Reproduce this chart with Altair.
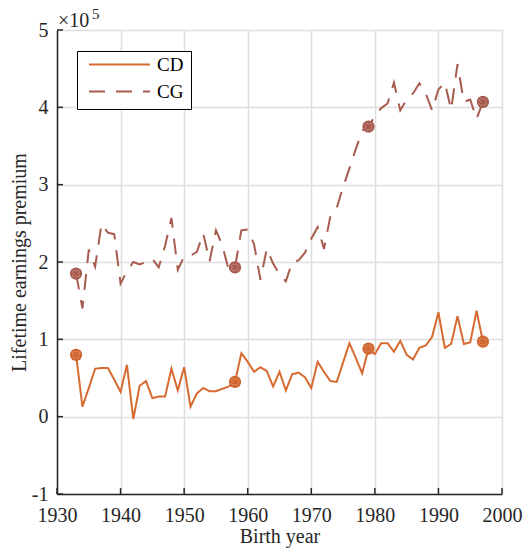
import altair as alt
import pandas as pd

# Birth cohorts and lifetime earnings premium (in units of 1e5)
years = list(range(1933, 1998))
cd = [0.80, 0.13, 0.37, 0.62, 0.63, 0.63, 0.48, 0.32, 0.67, -0.03,
      0.40, 0.46, 0.24, 0.26, 0.26, 0.62, 0.34, 0.64, 0.13, 0.30,
      0.37, 0.33, 0.33, 0.36, 0.39, 0.45, 0.82, 0.71, 0.58, 0.64,
      0.59, 0.39, 0.58, 0.34, 0.55, 0.57, 0.51, 0.37, 0.71, 0.58,
      0.46, 0.45, 0.70, 0.95, 0.76, 0.56, 0.88, 0.81, 0.95, 0.95,
      0.84, 0.98, 0.80, 0.74, 0.89, 0.92, 1.03, 1.35, 0.89, 0.94,
      1.30, 0.94, 0.96, 1.37, 0.97]
cg = [1.85, 1.40, 2.16, 1.94, 2.49, 2.38, 2.36, 1.72, 1.88, 2.00,
      1.97, 2.00, 2.04, 1.93, 2.21, 2.57, 1.90, 2.07, 2.08, 2.13,
      2.37, 2.01, 2.41, 2.22, 1.90, 1.93, 2.41, 2.42, 2.23, 1.77,
      2.17, 1.98, 1.84, 1.75, 2.00, 2.02, 2.12, 2.30, 2.45, 2.17,
      2.59, 2.70, 2.97, 3.21, 3.46, 3.70, 3.75, 3.89, 3.99, 4.05,
      4.32, 3.96, 4.10, 4.18, 4.31, 4.18, 3.96, 4.23, 4.32, 3.97,
      4.56, 4.07, 4.10, 3.85, 4.07]
marker_years = [1933, 1958, 1979, 1997]
series = ["CD", "CG"]
line_colors = ["#D66A30", "#A85C4F"]
marker_colors = ["#D0642C", "#A65A50"]
x_ticks = [1930, 1940, 1950, 1960, 1970, 1980, 1990, 2000]
y_ticks = [-1, 0, 1, 2, 3, 4, 5]

FONT = "Liberation Serif"
INK = "#262626"
W, H = 445, 464

rows = []
for yr, a, b in zip(years, cd, cg):
    rows.append({"year": yr, "series": "CD", "value": a})
    rows.append({"year": yr, "series": "CG", "value": b})
df = pd.DataFrame(rows)
marks_df = df[df["year"].isin(marker_years)]

x_scale = alt.Scale(domain=[1930, 2000], nice=False, zero=False)
y_scale = alt.Scale(domain=[-1, 5], nice=False, zero=False)

x_axis = alt.Axis(
    values=x_ticks, format="d", title="Birth year",
    labelPadding=11, labelFlush=False, titleY=48,
)
y_axis = alt.Axis(
    values=y_ticks, labelExpr="'' + datum.value", title="Lifetime earnings premium",
    labelPadding=9, labelFlush=False, titleX=-32,
)

X = alt.X("year:Q", scale=x_scale, axis=x_axis)
Y = alt.Y("value:Q", scale=y_scale, axis=y_axis)

legend = alt.Legend(
    title=None, orient="none", legendX=20, legendY=21,
    symbolType="stroke", symbolSize=3721, symbolStrokeWidth=2,
    clipHeight=13, rowPadding=7, padding=7, symbolOffset=4, labelOffset=6,
    strokeColor="black", fillColor="white",
    labelFont=FONT, labelFontSize=19, labelColor="black",
)

lines = alt.Chart(df).mark_line(strokeWidth=2).encode(
    x=X, y=Y,
    color=alt.Color("series:N", scale=alt.Scale(domain=series, range=line_colors), legend=legend),
    strokeDash=alt.StrokeDash("series:N", scale=alt.Scale(domain=series, range=[[1, 0], [16, 11]]), legend=legend),
)

dots = alt.Chart(marks_df).mark_point(filled=True, size=150, opacity=1).encode(
    x=X, y=Y,
    fill=alt.Fill("series:N", scale=alt.Scale(domain=series, range=marker_colors), legend=None),
)
crosses = alt.Chart(marks_df).mark_point(
    shape="cross", angle=45, filled=False, size=60, strokeWidth=0.7,
    color="#f0c8b4", opacity=0.55,
).encode(x=X, y=Y)

# inward-pointing axis ticks
xt = alt.Chart(pd.DataFrame({"year": x_ticks})).mark_rule(color=INK, strokeWidth=1.5).encode(
    x=X, y=alt.value(H), y2=alt.value(H - 6)
)
yt = alt.Chart(pd.DataFrame({"value": y_ticks})).mark_rule(color=INK, strokeWidth=1.5).encode(
    y=Y, x=alt.value(0), x2=alt.value(6)
)

one = pd.DataFrame({"k": [0]})
exp_base = alt.Chart(one).mark_text(
    text="\u00d710", font=FONT, fontSize=20, color=INK, align="left", baseline="alphabetic"
).encode(x=alt.value(1), y=alt.value(-3))
exp_sup = alt.Chart(one).mark_text(
    text="5", font=FONT, fontSize=15, color=INK, align="left", baseline="alphabetic"
).encode(x=alt.value(35), y=alt.value(-11))

chart = alt.layer(lines, dots, crosses, xt, yt, exp_base, exp_sup).properties(
    width=W, height=H,
    padding={"left": 57, "top": 30, "right": 24, "bottom": 55},
    autosize=alt.AutoSizeParams(type="none"),
    background="white",
).configure_view(strokeWidth=0).configure_axis(
    grid=True, gridColor="#dedede", gridWidth=1.5,
    domainColor=INK, domainWidth=1.5, ticks=False,
    labelFont=FONT, labelFontSize=20, labelColor=INK,
    titleFont=FONT, titleFontSize=20, titleFontWeight="normal", titleColor=INK,
    titleBaseline="alphabetic",
)

chart.save("out.html", embed_options={"renderer": "svg", "actions": False})
